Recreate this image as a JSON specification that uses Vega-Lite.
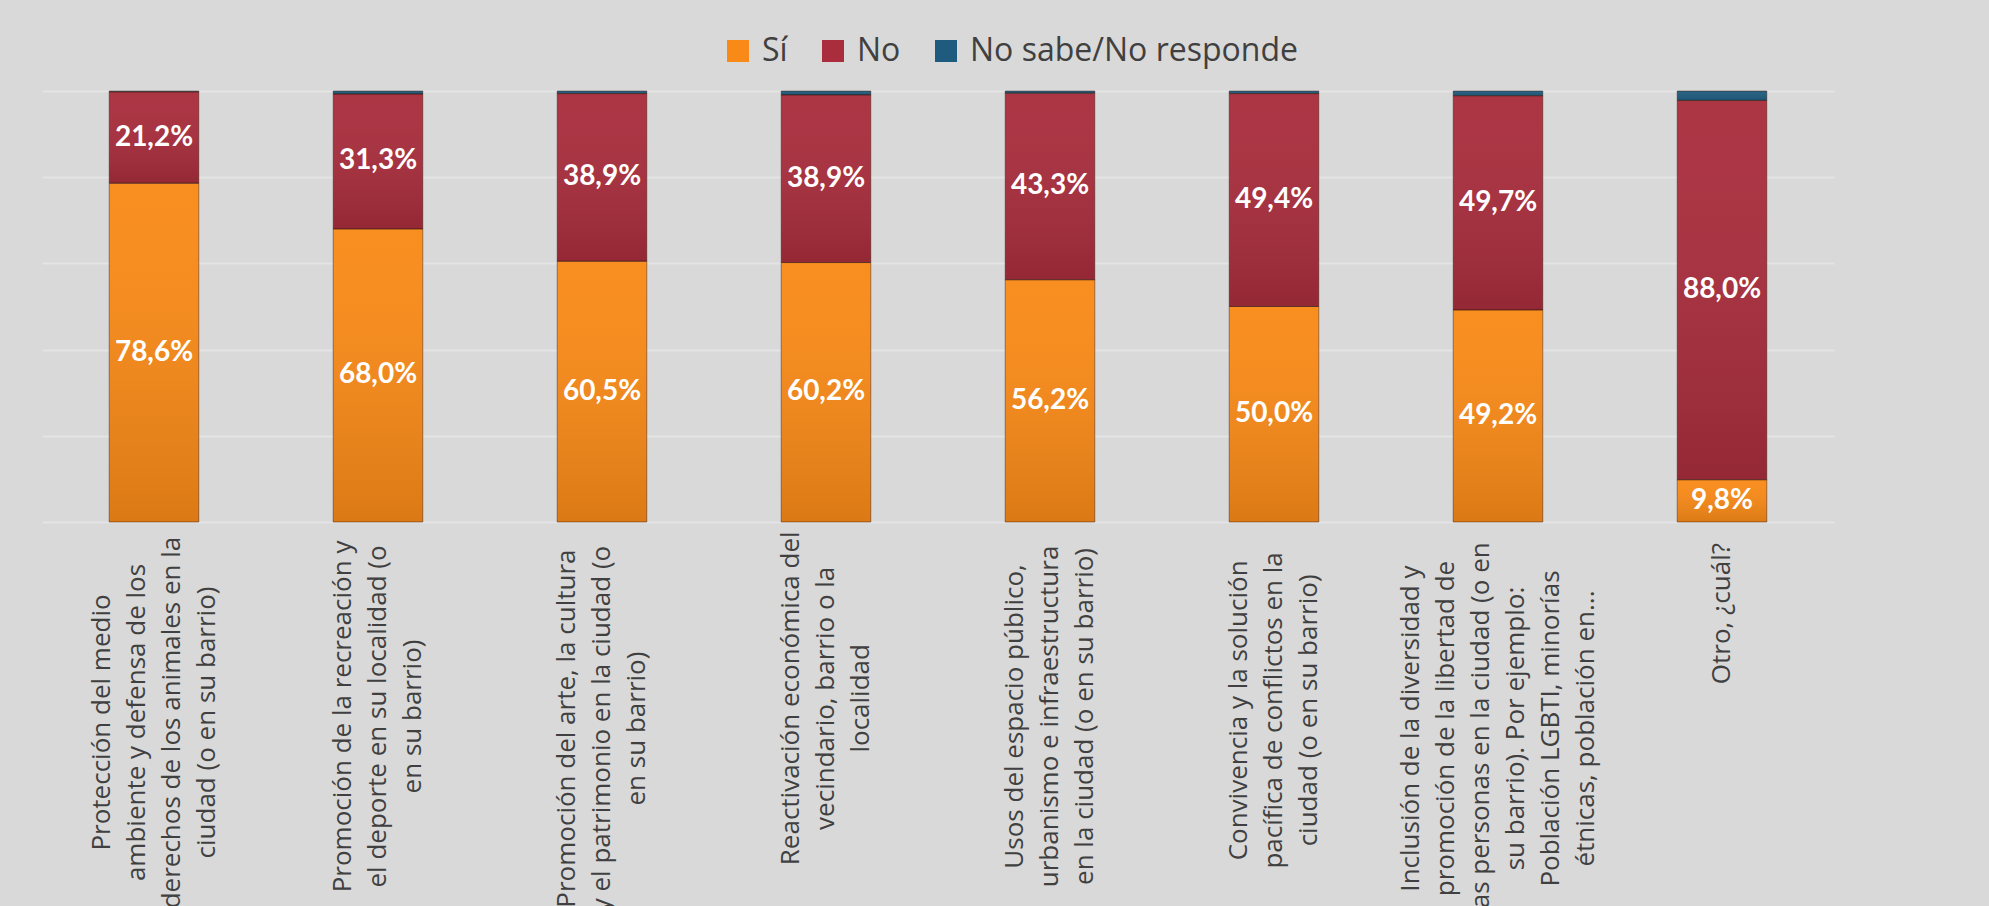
{
  "$schema": "https://vega.github.io/schema/vega-lite/v6.json",
  "width": 1792,
  "height": 431,
  "autosize": {"type": "none"},
  "padding": {"left": 42, "top": 91, "right": 155, "bottom": 384},
  "background": "#d9d9d9",
  "config": {"view": {"stroke": null}, "font": "Open Sans"},
  "data": {
    "values": [
      {"tema": "Protección del medio|ambiente y defensa de los|derechos de los animales en la|ciudad (o en su barrio)", "serie": "Sí", "valor": 78.6, "orden": 1},
      {"tema": "Protección del medio|ambiente y defensa de los|derechos de los animales en la|ciudad (o en su barrio)", "serie": "No", "valor": 21.2, "orden": 2},
      {"tema": "Protección del medio|ambiente y defensa de los|derechos de los animales en la|ciudad (o en su barrio)", "serie": "No sabe/No responde", "valor": 0.2, "orden": 3},
      {"tema": "Promoción de la recreación y|el deporte en su localidad (o|en su barrio)", "serie": "Sí", "valor": 68.0, "orden": 1},
      {"tema": "Promoción de la recreación y|el deporte en su localidad (o|en su barrio)", "serie": "No", "valor": 31.3, "orden": 2},
      {"tema": "Promoción de la recreación y|el deporte en su localidad (o|en su barrio)", "serie": "No sabe/No responde", "valor": 0.7, "orden": 3},
      {"tema": "Promoción del arte, la cultura|y el patrimonio en la ciudad (o|en su barrio)", "serie": "Sí", "valor": 60.5, "orden": 1},
      {"tema": "Promoción del arte, la cultura|y el patrimonio en la ciudad (o|en su barrio)", "serie": "No", "valor": 38.9, "orden": 2},
      {"tema": "Promoción del arte, la cultura|y el patrimonio en la ciudad (o|en su barrio)", "serie": "No sabe/No responde", "valor": 0.6, "orden": 3},
      {"tema": "Reactivación económica del|vecindario, barrio o la|localidad", "serie": "Sí", "valor": 60.2, "orden": 1},
      {"tema": "Reactivación económica del|vecindario, barrio o la|localidad", "serie": "No", "valor": 38.9, "orden": 2},
      {"tema": "Reactivación económica del|vecindario, barrio o la|localidad", "serie": "No sabe/No responde", "valor": 0.9, "orden": 3},
      {"tema": "Usos del espacio público,|urbanismo e infraestructura|en la ciudad (o en su barrio)", "serie": "Sí", "valor": 56.2, "orden": 1},
      {"tema": "Usos del espacio público,|urbanismo e infraestructura|en la ciudad (o en su barrio)", "serie": "No", "valor": 43.3, "orden": 2},
      {"tema": "Usos del espacio público,|urbanismo e infraestructura|en la ciudad (o en su barrio)", "serie": "No sabe/No responde", "valor": 0.5, "orden": 3},
      {"tema": "Convivencia y la solución|pacífica de conflictos en la|ciudad (o en su barrio)", "serie": "Sí", "valor": 50.0, "orden": 1},
      {"tema": "Convivencia y la solución|pacífica de conflictos en la|ciudad (o en su barrio)", "serie": "No", "valor": 49.4, "orden": 2},
      {"tema": "Convivencia y la solución|pacífica de conflictos en la|ciudad (o en su barrio)", "serie": "No sabe/No responde", "valor": 0.6, "orden": 3},
      {"tema": "Inclusión de la diversidad y|promoción de la libertad de|las personas en la ciudad (o en|su barrio). Por ejemplo:|Población LGBTI, minorías|étnicas, población en...", "serie": "Sí", "valor": 49.2, "orden": 1},
      {"tema": "Inclusión de la diversidad y|promoción de la libertad de|las personas en la ciudad (o en|su barrio). Por ejemplo:|Población LGBTI, minorías|étnicas, población en...", "serie": "No", "valor": 49.7, "orden": 2},
      {"tema": "Inclusión de la diversidad y|promoción de la libertad de|las personas en la ciudad (o en|su barrio). Por ejemplo:|Población LGBTI, minorías|étnicas, población en...", "serie": "No sabe/No responde", "valor": 1.1, "orden": 3},
      {"tema": "Otro, ¿cuál?", "serie": "Sí", "valor": 9.8, "orden": 1},
      {"tema": "Otro, ¿cuál?", "serie": "No", "valor": 88.0, "orden": 2},
      {"tema": "Otro, ¿cuál?", "serie": "No sabe/No responde", "valor": 2.2, "orden": 3}
    ]
  },
  "encoding": {
    "x": {
      "field": "tema",
      "type": "nominal",
      "sort": null,
      "scale": {"paddingInner": 0.6, "paddingOuter": 0.3},
      "axis": null
    },
    "y": {
      "field": "valor",
      "type": "quantitative",
      "stack": "zero",
      "scale": {"domain": [0, 100], "nice": false},
      "axis": {
        "title": null,
        "labels": false,
        "ticks": false,
        "domain": false,
        "values": [0, 20, 40, 60, 80, 100],
        "gridColor": "#e4e4e4",
        "gridWidth": 2
      }
    },
    "order": {"field": "orden", "type": "quantitative"}
  },
  "layer": [
    {
      "mark": {"type": "bar"},
      "encoding": {
        "color": {
          "field": "serie",
          "type": "nominal",
          "scale": {
            "domain": ["Sí", "No", "No sabe/No responde"],
            "range": ["#f98a17", "#a92d3c", "#1f5b7e"]
          },
          "legend": {
            "orient": "none",
            "legendX": 680,
            "legendY": -56,
            "direction": "horizontal",
            "title": null,
            "labelFont": "Open Sans",
            "labelFontSize": 32,
            "labelColor": "#404040",
            "symbolType": "square",
            "symbolSize": 484,
            "symbolStrokeWidth": 0,
            "symbolOpacity": 1,
            "labelOffset": 8,
            "columnPadding": 29,
            "labelLimit": 0
          }
        }
      }
    },
    {
      "mark": {
        "type": "bar",
        "fill": {
          "gradient": "linear",
          "x1": 0, "y1": 0, "x2": 0, "y2": 1,
          "stops": [
            {"offset": 0, "color": "rgba(255,255,255,0.04)"},
            {"offset": 1, "color": "rgba(0,0,0,0.12)"}
          ]
        },
        "stroke": "#3a1a10",
        "strokeOpacity": 0.45,
        "strokeWidth": 1
      },
      "encoding": {"detail": {"field": "serie"}}
    },
    {
      "transform": [{"filter": "datum.serie != 'No sabe/No responde'"}],
      "mark": {
        "type": "text",
        "text": {"expr": "replace(format(datum.valor, '.1f'), '.', ',') + '%'"},
        "font": "Lato",
        "fontWeight": "bold",
        "fontSize": 28,
        "color": "white",
        "align": "center",
        "baseline": "middle"
      },
      "encoding": {
        "detail": {"field": "serie"},
        "y": {
          "field": "valor",
          "type": "quantitative",
          "stack": "zero",
          "bandPosition": 0.5,
          "scale": {"domain": [0, 100], "nice": false},
          "axis": {
            "title": null,
            "labels": false,
            "ticks": false,
            "domain": false,
            "values": [0, 20, 40, 60, 80, 100],
            "gridColor": "#e4e4e4",
            "gridWidth": 2
          }
        }
      }
    },
    {
      "transform": [{"filter": "datum.serie == 'Sí'"}],
      "mark": {
        "type": "text",
        "angle": 270,
        "align": "center",
        "baseline": "middle",
        "lineBreak": "|",
        "lineHeight": 35,
        "font": "Open Sans",
        "fontSize": 26,
        "color": "#404040",
        "dx": {"expr": "-(19 + 6.05 * max(length(split(datum.tema, '|')[0] || ''), length(split(datum.tema, '|')[1] || ''), length(split(datum.tema, '|')[2] || ''), length(split(datum.tema, '|')[3] || ''), length(split(datum.tema, '|')[4] || ''), length(split(datum.tema, '|')[5] || '')))"},
        "dy": {"expr": "-(length(split(datum.tema, '|')) - 1) * 17.5"}
      },
      "encoding": {
        "text": {"field": "tema", "type": "nominal"},
        "y": {"datum": 0, "type": "quantitative"}
      }
    }
  ]
}
